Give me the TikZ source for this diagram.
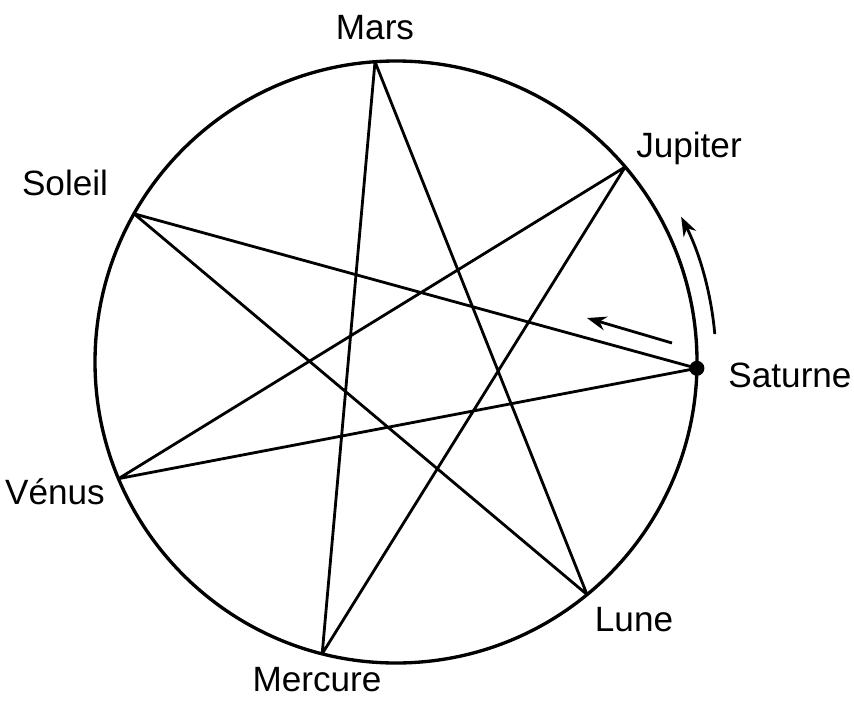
\documentclass[tikz,border=0pt]{standalone}
\usepackage{fontspec}
\setmainfont{Liberation Sans}
\usetikzlibrary{arrows.meta}
\begin{document}
\begin{tikzpicture}[x=0.02cm, y=0.02cm,
        planet/.style={font=\fontsize{20}{24}\selectfont, inner sep=0pt},
        star/.style={line width=1.6pt, line join=round},
        sense/.style={line width=1.6pt, -{Stealth[length=11pt, width=8pt]}}]

    % Frame
    \useasboundingbox (0,0) rectangle (854,701);

    % Circle and vertices
    \begin{scope}[shift={(396,339)}]
        \draw[line width=1.9pt] (0,0) circle (301);
        \coordinate (mars)    at (94:301);
        \coordinate (jupiter) at (40.4:301);
        \coordinate (saturne) at (-1.2:301);
        \coordinate (lune)    at (-50.6:301);
        \coordinate (mercure) at (-104.2:301);
        \coordinate (venus)   at (-157.2:301);
        \coordinate (soleil)  at (150.5:301);

        % Direction of the days
        \draw[sense] (5:320) arc[start angle=5, end angle=27, radius=320];
    \end{scope}

    % Heptagram
    \draw[star] (saturne) -- (soleil) -- (lune) -- (mars) -- (mercure)
        -- (jupiter) -- (venus) -- cycle;
    \fill (saturne) circle (7.5);

    % Arrow along the first line
    \coordinate (from) at (672,358);
    \coordinate (to) at (587,383);
    \draw[sense] (from) -- (to);

    % Labels
    \node[planet] (marslabel)    at (375,673) {Mars};
    \node[planet] (jupiterlabel) at (689,553) {Jupiter};
    \node[planet] (saturnelabel) at (790,326) {Saturne};
    \node[planet] (lunelabel)    at (634,81)  {Lune};
    \node[planet] (mercurelabel) at (317,21)  {Mercure};
    \node[planet] (venuslabel)   at (55,209)  {Vénus};
    \node[planet] (soleillabel)  at (65,518)  {Soleil};

\end{tikzpicture}
\end{document}
